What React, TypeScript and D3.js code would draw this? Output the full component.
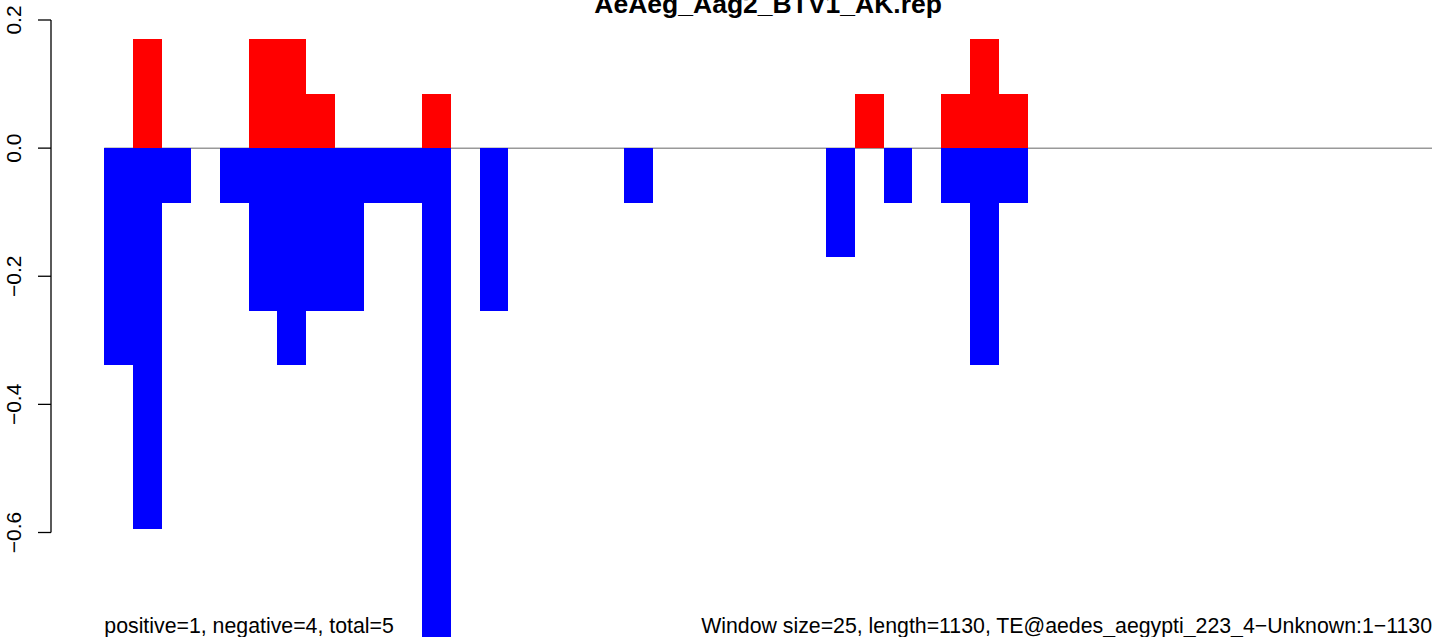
import React from "react";
import * as d3 from "d3";

// sliding windows of 25 bp along the TE (1130 bp -> 46 windows)
const windowCount = 46;

// signal above zero (positive strand), one value per window
const positive = [
  0, 0.17, 0, 0, 0, 0.17, 0.17, 0.085, 0, 0, 0, 0.085, 0, 0, 0, 0,
  0, 0, 0, 0, 0, 0, 0, 0, 0, 0, 0.085, 0, 0, 0.085, 0.17, 0.085,
  0, 0, 0, 0, 0, 0, 0, 0, 0, 0, 0, 0, 0, 0,
];

// signal below zero (negative strand)
const negative = [
  -0.339, -0.594, -0.085, 0, -0.085, -0.254, -0.339, -0.254, -0.254, -0.085, -0.085, -0.85, 0, -0.254, 0, 0,
  0, 0, -0.085, 0, 0, 0, 0, 0, 0, -0.17, 0, -0.085, 0, -0.085, -0.339, -0.085,
  0, 0, 0, 0, 0, 0, 0, 0, 0, 0, 0, 0, 0, 0,
];

const yTickValues = [0.2, 0.0, -0.2, -0.4, -0.6];
const yTickLabels = ["0.2", "0.0", "\u22120.2", "\u22120.4", "\u22120.6"];

const title = "AeAeg_Aag2_BTV1_AK.rep";
const leftNote = "positive=1, negative=4, total=5";
const rightNote = "Window size=25, length=1130, TE@aedes_aegypti_223_4\u2212Unknown:1\u22121130";

const App: React.FC = () => {
  const width = 1444;
  const height = 637;
  const font = "'Liberation Sans', Arial, Helvetica, sans-serif";

  const x = d3.scaleLinear().domain([0, windowCount]).range([104.3, 1432]);
  const y = d3.scaleLinear().domain([0.2, -0.6]).range([20, 532.5]);
  const axisX = 51;

  const bars = (vals: number[], color: string) =>
    vals.map((v, i) =>
      v === 0 ? null : (
        <rect
          key={color + i}
          x={x(i)}
          y={Math.min(y(v), y(0))}
          width={x(i + 1) - x(i)}
          height={Math.abs(y(v) - y(0))}
          fill={color}
          shapeRendering="crispEdges"
        />
      )
    );

  return (
    <svg
      width={width}
      height={height}
      style={{ position: "fixed", top: 0, left: 0, background: "#fff" }}
      fontFamily={font}
    >
      {/* zero line */}
      <line x1={x(0)} x2={x(windowCount)} y1={y(0)} y2={y(0)} stroke="#999" strokeWidth={1.5} />

      {/* bars */}
      {bars(negative, "#0000ff")}
      {bars(positive, "#ff0000")}

      {/* Y axis */}
      <line x1={axisX} x2={axisX} y1={y(0.2)} y2={y(-0.6)} stroke="#000" strokeWidth={1.3} />
      {yTickValues.map((t, i) => (
        <g key={t}>
          <line x1={axisX - 13} x2={axisX} y1={y(t)} y2={y(t)} stroke="#000" strokeWidth={1.3} />
          <text
            transform={`translate(20.5,${y(t)}) rotate(-90)`}
            textAnchor="middle"
            fontSize={21}
            fill="#000"
          >
            {yTickLabels[i]}
          </text>
        </g>
      ))}

      {/* title (cut by the top edge, as in the original) */}
      <text x={(x(0) + x(windowCount)) / 2} y={13} textAnchor="middle" fontSize={26.5} fontWeight="bold">
        {title}
      </text>

      {/* footnotes */}
      <text x={x(0)} y={633} fontSize={21.3}>
        {leftNote}
      </text>
      <text x={x(windowCount)} y={633} textAnchor="end" fontSize={21.3}>
        {rightNote}
      </text>
    </svg>
  );
};

export default App;
